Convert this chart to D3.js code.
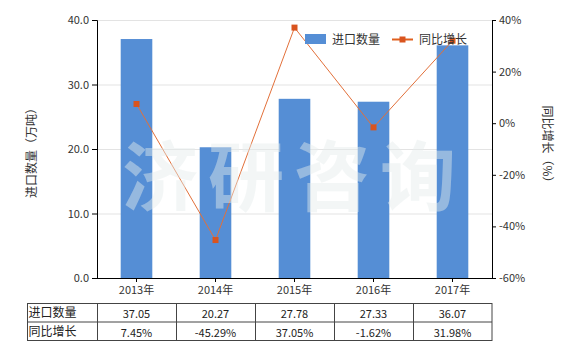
<!DOCTYPE html>
<html>
<head>
<meta charset="utf-8">
<script src="https://cdn.jsdelivr.net/npm/d3@7"></script>
<style>
  body { margin: 0; background: #fff; }
  text { font-family: "Noto Sans CJK SC", "Noto Sans", sans-serif; }
</style>
</head>
<body>
<div id="chart"></div>
<script>
// data
var years = ["2013年", "2014年", "2015年", "2016年", "2017年"];
var qty = [37.05, 20.27, 27.78, 27.33, 36.07];
var growth = [7.45, -45.29, 37.05, -1.62, 31.98];
var leftTicks = [0, 10, 20, 30, 40];
var rightTicks = [-60, -40, -20, 0, 20, 40];

var W = 580, H = 350;
var margin = {top: 20, right: 88, bottom: 72, left: 97};
var width = W - margin.left - margin.right,
    height = H - margin.top - margin.bottom;

var svg = d3.select("#chart").append("svg")
  .attr("width", W).attr("height", H);

var g = svg.append("g")
  .attr("transform", "translate(" + margin.left + "," + margin.top + ")");

var x = d3.scaleBand().domain(years).range([0, width]);
var yL = d3.scaleLinear().domain([0, 40]).range([height, 0]);
var yR = d3.scaleLinear().domain([-60, 40]).range([height, 0]);

// grid lines
g.selectAll("line.grid")
  .data(leftTicks.slice(1))
  .enter().append("line")
    .attr("x1", 0).attr("x2", width)
    .attr("y1", function(d){ return yL(d) + 0.5 })
    .attr("y2", function(d){ return yL(d) + 0.5 })
    .style("stroke", "#e3e3e3");

// bars
var bw = x.bandwidth() * 0.4;
g.selectAll("rect.bar")
  .data(qty)
  .enter().append("rect")
    .attr("x", function(d, i){ return x(years[i]) + (x.bandwidth() - bw) / 2 })
    .attr("y", function(d){ return yL(d) })
    .attr("width", bw)
    .attr("height", function(d){ return height - yL(d) })
    .style("fill", "#558ed5");

// axes
var axL = g.append("g")
  .call(d3.axisLeft(yL).tickValues(leftTicks).tickFormat(d3.format(".1f")).tickSize(5).tickPadding(3));
var axR = g.append("g").attr("transform", "translate(" + width + ",0)")
  .call(d3.axisRight(yR).tickValues(rightTicks).tickFormat(function(d){ return d + "%" }).tickSize(4).tickPadding(3));
var axB = g.append("g").attr("transform", "translate(0," + height + ")")
  .call(d3.axisBottom(x).tickSize(4).tickPadding(4));

[axL, axR, axB].forEach(function(a){
  a.select(".domain").style("stroke", "#000");
  a.selectAll(".tick line").style("stroke", "#000");
  a.selectAll("text").style("font-size", "11px").style("fill", "#333")
    .style("font-family", "\"Noto Sans CJK SC\", sans-serif");
});
axB.select(".domain").attr("d", "M0,0.5H" + width);

// axis titles
svg.append("text")
  .attr("transform", "translate(36,150) rotate(-90)")
  .attr("text-anchor", "middle")
  .style("font-size", "12px").style("fill", "#333")
  .text("进口数量（万吨）");
svg.append("text")
  .attr("transform", "translate(543,147) rotate(90)")
  .attr("text-anchor", "middle")
  .style("font-size", "12px").style("fill", "#333")
  .text("同比增长（%）");

// legend
var leg = svg.append("g");
leg.append("rect").attr("x", 305).attr("y", 34).attr("width", 21).attr("height", 10).style("fill", "#558ed5");
leg.append("text").attr("x", 332).attr("y", 43.5).style("font-size", "12px").style("fill", "#333").text("进口数量");
leg.append("line").attr("x1", 392).attr("x2", 413).attr("y1", 39.5).attr("y2", 39.5)
  .style("stroke", "#e0601f").style("stroke-width", 2);
leg.append("rect").attr("x", 399.5).attr("y", 36.5).attr("width", 6).attr("height", 6).style("fill", "#d9541e");
leg.append("text").attr("x", 419).attr("y", 43.5).style("font-size", "12px").style("fill", "#333").text("同比增长");

// growth line
var line = d3.line()
  .x(function(d, i){ return x(years[i]) + x.bandwidth() / 2 })
  .y(function(d){ return yR(d) });
g.append("path").datum(growth)
  .attr("d", line)
  .style("fill", "none").style("stroke", "#e2703a").style("stroke-width", 1);
g.selectAll("rect.mk")
  .data(growth)
  .enter().append("rect")
    .attr("x", function(d, i){ return x(years[i]) + x.bandwidth() / 2 - 3 })
    .attr("y", function(d){ return yR(d) - 3 })
    .attr("width", 6).attr("height", 6)
    .style("fill", "#d9541e");

// watermark
var wm = ["济", "研", "咨", "询"];
g.selectAll("text.wm")
  .data(wm)
  .enter().append("text")
    .attr("x", function(d, i){ return 63 + i * 86 })
    .attr("y", 185)
    .attr("text-anchor", "middle")
    .style("font-size", "76px").style("font-weight", "bold")
    .style("fill", "#e6eded").style("opacity", 0.45)
    .text(function(d){ return d });

// data table
var tTop = 303.5, rowH = 18.5, tLeft = 27.5, firstW = margin.left - 27;
var rows = [
  {name: "进口数量", vals: qty.map(function(d){ return d.toFixed(2) })},
  {name: "同比增长", vals: growth.map(function(d){ return d.toFixed(2) + "%" })}
];
var tb = svg.append("g");
tb.append("rect")
  .attr("x", tLeft).attr("y", tTop)
  .attr("width", margin.left + width - tLeft).attr("height", rowH * 2)
  .style("fill", "none").style("stroke", "#444");
tb.append("line").attr("x1", tLeft).attr("x2", margin.left + width)
  .attr("y1", tTop + rowH).attr("y2", tTop + rowH).style("stroke", "#444");
years.forEach(function(y, i){
  var xx = Math.round(margin.left + x(y)) + 0.5;
  tb.append("line").attr("x1", xx).attr("x2", xx)
    .attr("y1", tTop).attr("y2", tTop + rowH * 2).style("stroke", "#444");
});
rows.forEach(function(r, j){
  var yy = tTop + rowH * j + 13.5;
  tb.append("text").attr("x", tLeft + 1).attr("y", yy)
    .style("font-size", "12px").style("fill", "#222").text(r.name);
  r.vals.forEach(function(v, i){
    tb.append("text")
      .attr("x", margin.left + x(years[i]) + x.bandwidth() / 2)
      .attr("y", yy + 1)
      .attr("text-anchor", "middle")
      .style("font-size", "11px").style("fill", "#222").text(v);
  });
});
</script>
</body>
</html>
